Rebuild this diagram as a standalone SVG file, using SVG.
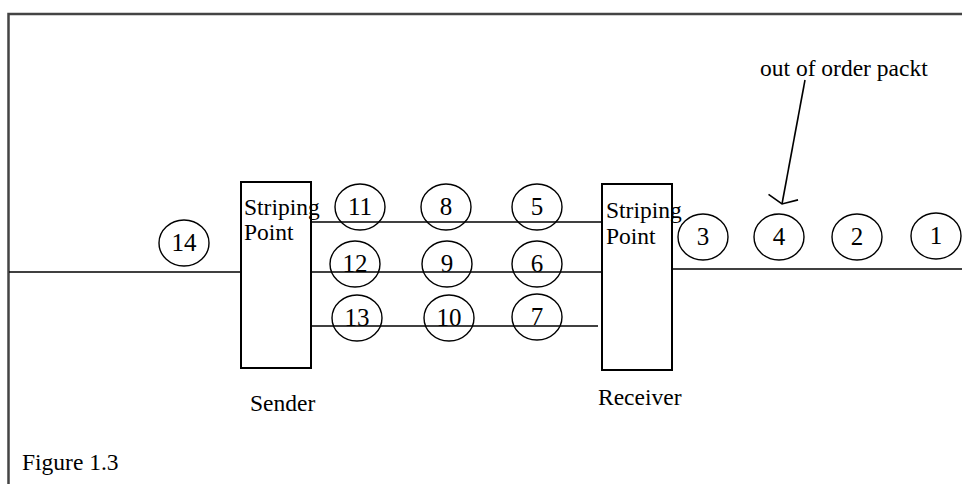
<svg xmlns="http://www.w3.org/2000/svg" width="962" height="484" viewBox="0 0 962 484">
<style>
  .t { font-family: "Liberation Serif", "Times New Roman", serif; font-size: 23.5px; fill: #000; }
  .n { font-family: "Liberation Serif", "Times New Roman", serif; font-size: 25px; fill: #000; text-anchor: middle; }
  .pkt { fill: none; stroke: #000; stroke-width: 1.4; }
  .box { fill: #fff; stroke: #000; stroke-width: 2; }
  .ln { stroke: #000; stroke-width: 1.6; fill: none; }
  .frame { stroke: #444; stroke-width: 2.5; fill: none; }
</style>
<defs>
  <marker id="vhead" markerUnits="userSpaceOnUse" markerWidth="40" markerHeight="40" refX="0" refY="0" viewBox="-20 -20 40 40" orient="auto" overflow="visible">
    <path d="M-7,-15 L0,0 L-7,15" fill="none" stroke="#000" stroke-width="1.6"/>
  </marker>
</defs>
<rect width="962" height="484" fill="#fff"/>
<path class="frame" d="M8.5,484 V14 H962"/>

<g id="connectors">
  <line class="ln" x1="9" y1="272" x2="241" y2="272"/>
  <line class="ln" x1="311" y1="222" x2="602" y2="222"/>
  <line class="ln" x1="311" y1="272" x2="602" y2="272"/>
  <line class="ln" x1="311" y1="326" x2="598" y2="326"/>
  <line class="ln" x1="672" y1="269" x2="962" y2="269"/>
  <line class="ln" x1="805" y1="80" x2="782" y2="204" marker-end="url(#vhead)"/>
</g>

<g id="sender">
  <rect class="box" x="241" y="182" width="70" height="186"/>
  <text class="t" x="244" y="215">Striping</text>
  <text class="t" x="244" y="240">Point</text>
  <text class="t" x="250" y="411">Sender</text>
</g>

<g id="receiver">
  <rect class="box" x="602" y="184" width="70" height="186"/>
  <text class="t" x="606" y="218">Striping</text>
  <text class="t" x="606" y="244">Point</text>
  <text class="t" x="598" y="405">Receiver</text>
</g>

<g id="p14"><ellipse class="pkt" cx="184" cy="243" rx="25" ry="23"/><text class="n" x="184" y="251">14</text></g>
<g id="p11"><ellipse class="pkt" cx="360" cy="207" rx="25" ry="23"/><text class="n" x="360" y="215">11</text></g>
<g id="p8"><ellipse class="pkt" cx="446" cy="207" rx="25" ry="23"/><text class="n" x="446" y="215">8</text></g>
<g id="p5"><ellipse class="pkt" cx="537" cy="207" rx="25" ry="23"/><text class="n" x="537" y="215">5</text></g>
<g id="p12"><ellipse class="pkt" cx="355" cy="264" rx="25" ry="23"/><text class="n" x="355" y="272">12</text></g>
<g id="p9"><ellipse class="pkt" cx="447" cy="264" rx="25" ry="23"/><text class="n" x="447" y="272">9</text></g>
<g id="p6"><ellipse class="pkt" cx="537" cy="264" rx="25" ry="23"/><text class="n" x="537" y="272">6</text></g>
<g id="p13"><ellipse class="pkt" cx="357" cy="318" rx="25" ry="23"/><text class="n" x="357" y="326">13</text></g>
<g id="p10"><ellipse class="pkt" cx="449" cy="318" rx="25" ry="23"/><text class="n" x="449" y="326">10</text></g>
<g id="p7"><ellipse class="pkt" cx="537" cy="317" rx="25" ry="23"/><text class="n" x="537" y="325">7</text></g>
<g id="p3"><ellipse class="pkt" cx="703" cy="237" rx="25" ry="23"/><text class="n" x="703" y="245">3</text></g>
<g id="p4"><ellipse class="pkt" cx="779" cy="237" rx="25" ry="23"/><text class="n" x="779" y="245">4</text></g>
<g id="p2"><ellipse class="pkt" cx="857" cy="237" rx="25" ry="23"/><text class="n" x="857" y="245">2</text></g>
<g id="p1"><ellipse class="pkt" cx="936" cy="236" rx="25" ry="23"/><text class="n" x="936" y="244">1</text></g>

<g id="label-out-of-order">
  <text class="t" x="760" y="76">out of order packt</text>
</g>
<g id="caption">
  <text class="t" x="22" y="470">Figure 1.3</text>
</g>
</svg>
